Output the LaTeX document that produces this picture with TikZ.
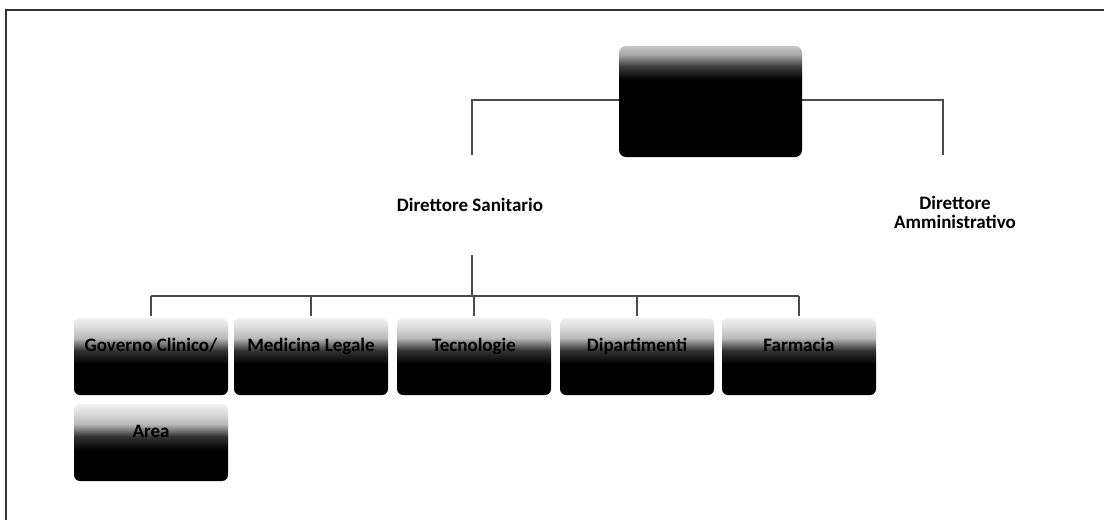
\documentclass[tikz,border=0pt]{standalone}
\usepackage{fontspec}
\setmainfont{Carlito}
\usetikzlibrary{calc}
\pgfdeclareverticalshading{childshade}{100bp}{color(0bp)=(black); color(25bp)=(black); color(45bp)=(black); color(54bp)=(black!80); color(62bp)=(gray!55); color(70bp)=(gray!25); color(75bp)=(gray!12); color(100bp)=(gray!12)}
\pgfdeclareverticalshading{topshade}{100bp}{color(0bp)=(black); color(25bp)=(black); color(60bp)=(black); color(66bp)=(black!75); color(71bp)=(gray!70); color(75bp)=(gray!45); color(100bp)=(gray!45)}
\tikzset{
  conn/.style={draw=black!70, line width=1.2pt},
  topbox/.style={rounded corners=7pt, shading=topshade, minimum width=183pt, minimum height=111pt, inner sep=0pt},
  childbox/.style={rounded corners=6pt, shading=childshade, minimum width=154pt, minimum height=77pt, inner xsep=2pt, inner ysep=0pt, text height=33pt, text depth=44pt, font=\bfseries\fontsize{19}{21}\selectfont, text=black},
  role/.style={font=\bfseries\fontsize{19}{19}\selectfont, align=center, inner sep=0pt},
}
\begin{document}
\begin{tikzpicture}[x=1pt, y=-1pt]
\useasboundingbox (0,0) rectangle (1104,520);
% frame
\draw[black!80, line width=2.2pt] (6,520) -- (6,10) -- (1104,10);
% top box
\node[topbox] (top) at (710.5,101.5) {};
% roles
\node[role, minimum height=100pt] (ds) at (470,205) {Direttore Sanitario};
\node[role] (da) at (955,212) {Direttore\\Amministrativo};
\coordinate (daTop) at (943,155);
% children
\node[childbox] (c1) at (151,356.5) {Governo Clinico/};
\node[childbox] (c2) at (311,356.5) {Medicina Legale};
\node[childbox] (c3) at (474,356.5) {Tecnologie};
\node[childbox] (c4) at (637,356.5) {Dipartimenti};
\node[childbox] (c5) at (799,356.5) {Farmacia};
\node[childbox] (c6) at (151,442.5) {Area};
% connectors
\draw[conn] (top.west |- 0,100) -| (ds.north -| 472,0);
\draw[conn] (top.east |- 0,100) -| (daTop);
\coordinate (bus) at (472,296);
\draw[conn] (ds.south -| bus) -- (bus);
\draw[conn] (c1.north |- bus) -- (c5.north |- bus);
\foreach \c in {c1,c2,c3,c4,c5}{
  \draw[conn] (\c.north |- bus) -- ($(\c.north)+(0,-2)$);
}
\end{tikzpicture}
\end{document}
